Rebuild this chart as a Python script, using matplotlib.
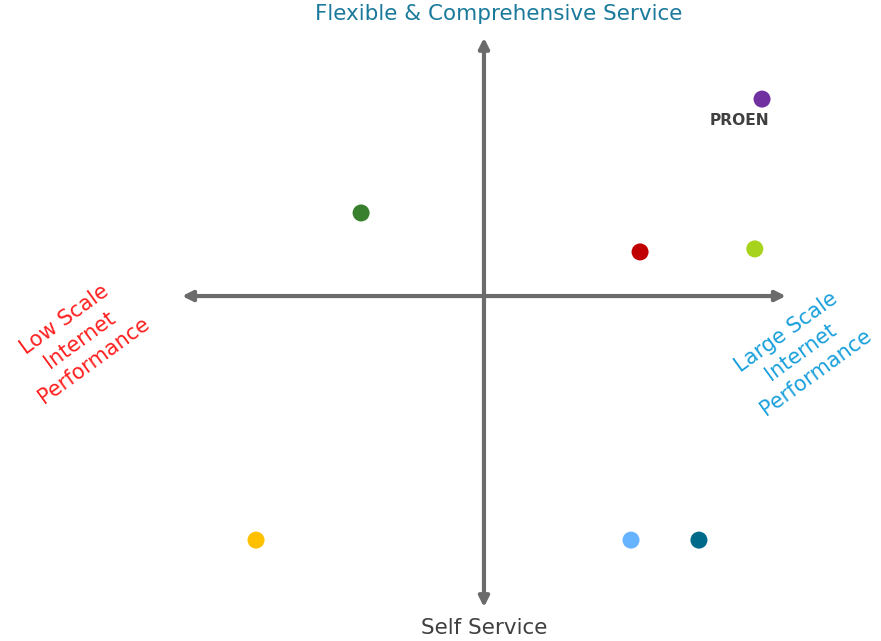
"""Positioning map: scale vs service"""

import matplotlib.pyplot as plt

# data (quadrant coordinates, centre of cross = 0,0)
names = ["green", "red", "lime", "PROEN", "yellow", "lightblue", "teal"]
xs = [-4.07, 5.17, 8.97, 9.21, -7.55, 4.87, 7.12]
ys = [2.75, 1.46, 1.56, 6.52, -8.08, -8.08, -8.08]
colors = ["#38802e", "#c00000", "#a8d31c", "#7030a0", "#ffc000", "#66b3ff", "#006a8a"]

x_arrow = (-10.0, 10.0)
y_arrow = (-10.3, 8.55)

fig = plt.figure(figsize=(8.81, 6.41), dpi=100)
ax = fig.add_axes([0, 0, 1, 1])
ax.set_xlim(-16.03, 13.15)
ax.set_ylim(-11.42, 9.80)
ax.axis("off")

arrow_kw = dict(arrowstyle="<|-|>,head_length=0.6,head_width=0.3",
                color="#6b6b6b", lw=3.0, shrinkA=0, shrinkB=0)
ax.annotate("", xy=(x_arrow[1], 0), xytext=(x_arrow[0], 0), arrowprops=arrow_kw)
ax.annotate("", xy=(0, y_arrow[1]), xytext=(0, y_arrow[0]), arrowprops=arrow_kw)

ax.scatter(xs, ys, s=150, c=colors, zorder=3, linewidths=0)

# label for PROEN
i = names.index("PROEN")
ax.text(xs[i] - 0.75, ys[i] - 0.72, "PROEN", ha="center", va="center",
        fontsize=11.2, fontweight="bold", color="#404040")

ax.text(0.5, 9.33, "Flexible & Comprehensive Service", ha="center", va="center",
        fontsize=15.5, color="#1b7a9c")
ax.text(0, -10.98, "Self Service", ha="center", va="center",
        fontsize=15.5, color="#404040")
ax.text(-13.4, -1.45, "Low Scale\nInternet\nPerformance", ha="center", va="center",
        rotation=36, fontsize=15, color="#ff1f1f", linespacing=1.3)
ax.text(10.5, -1.85, "Large Scale\nInternet\nPerformance", ha="center", va="center",
        rotation=36, fontsize=15, color="#1aa0dc", linespacing=1.3)

fig.savefig("out.png", dpi=100)
